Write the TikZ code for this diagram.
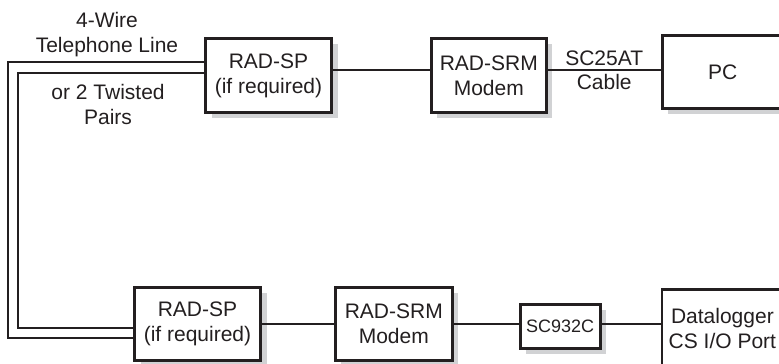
\documentclass[tikz,border=0pt]{standalone}
\usepackage{fontspec}
\setmainfont{Liberation Sans}
\usetikzlibrary{positioning}
\usetikzlibrary{shadows}
\definecolor{ink}{HTML}{231F20}
\definecolor{shade}{HTML}{D1D2D4}

\begin{document}
\begin{tikzpicture}[x=1pt,y=-1pt,line width=2.2pt,color=ink,
  font=\fontsize{21}{25}\selectfont,
  unit/.style={draw,fill=white,line width=2.8pt,align=center,inner sep=0pt,
    drop shadow={shadow xshift=6pt,shadow yshift=-5pt,fill=shade,opacity=1}}]
\clip (0,0) rectangle (779,364);

\node [unit,minimum width=126pt,minimum height=74pt] (spA) at (268.5,75.5) {RAD-SP\\(if required)};
\node [unit,minimum width=115pt,minimum height=74pt,right=97pt of spA] (srmA) {RAD-SRM\\Modem};
\node [unit,minimum width=121pt,minimum height=73pt,right=113pt of srmA,yshift=3.5pt] (pc) {PC};

\node [unit,minimum width=126pt,minimum height=73pt] (spB) at (197.5,324) {RAD-SP\\(if required)};
\node [unit,minimum width=117pt,minimum height=73pt,right=72pt of spB] (srmB) {RAD-SRM\\Modem};
\node [unit,minimum width=80pt,minimum height=44pt,right=65pt of srmB,yshift=-2.5pt,
  font=\fontsize{18}{22}\selectfont] (sc) {SC932C};
\node [unit,minimum width=121pt,minimum height=77pt,right=59pt of sc,yshift=-1.5pt] (logger) {Datalogger\\CS I/O Port};

\node [align=center] (wire) at (107,35) {4-Wire\\Telephone Line};
\node [align=center] (pairs) at (108,104) {or 2 Twisted\\Pairs};

\coordinate (topline) at (0,70);
\coordinate (outerTop) at (8,62);
\coordinate (outerBot) at (8,338);
\coordinate (innerTop) at (18,73);
\coordinate (innerBot) at (18,328);

\draw [-] (spA.east |- topline) -- (srmA.west |- topline);
\draw [-] (srmA.east |- topline) -- node [above] {SC25AT} node [below] {Cable} (pc.west |- topline);
\draw [-] (spB) -- (srmB);
\draw [-] (srmB.east) -- (sc.west |- srmB.east);
\draw [-] (sc.east |- srmB.east) -- (logger.west |- srmB.east);

\draw [-] (spA.west |- outerTop) -- (outerTop) -- (outerBot) -- (spB.west |- outerBot);
\draw [-] (spA.west |- innerTop) -- (innerTop) -- (innerBot) -- (spB.west |- innerBot);
\end{tikzpicture}
\end{document}
